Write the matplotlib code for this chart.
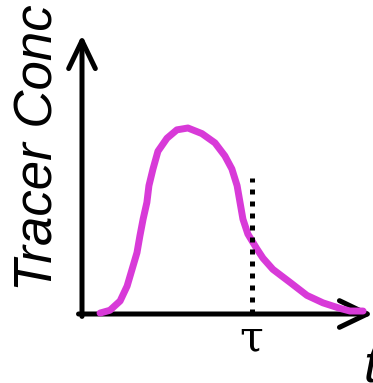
import numpy as np
import matplotlib
matplotlib.use("Agg")
import matplotlib.pyplot as plt

# tracer concentration curve (time in arbitrary units, conc normalised to peak)
t = [0.62, 0.96, 1.31, 1.55, 1.72, 1.89, 1.99, 2.10, 2.23, 2.30, 2.44, 2.61, 2.92,
     3.26, 3.64, 4.12, 4.57, 4.91, 5.15, 5.33, 5.43, 5.53, 5.70, 6.01, 6.22, 6.56,
     7.15, 7.73, 8.28, 8.87, 9.21, 9.66]
conc = [0.005, 0.02, 0.07, 0.15, 0.24, 0.33, 0.42, 0.51, 0.60, 0.69, 0.78, 0.875,
        0.945, 0.99, 1.00, 0.97, 0.92, 0.85, 0.78, 0.69, 0.60, 0.51, 0.43, 0.35,
        0.30, 0.24, 0.17, 0.10, 0.06, 0.03, 0.016, 0.016]
tau = 5.83
tau_top = 0.73

fig = plt.figure(figsize=(3.73, 3.83), dpi=100)
ax = fig.add_axes([82/373, 69/383, 291/373, 279/383])
ax.set_xlim(0, 10)
ax.set_ylim(0, 1.5)
for s in ax.spines.values():
    s.set_visible(False)

ax.plot(t, conc, color='#d83ad8', lw=5, solid_capstyle='round',
        solid_joinstyle='round', zorder=4, clip_on=False)

# axes arrows
arrow = dict(arrowstyle='->,head_length=1.0,head_width=0.48', lw=3.6,
             color='k', mutation_scale=20, shrinkA=0, shrinkB=0)
ax.annotate('', xy=(0, 1.5), xytext=(0, -0.013), arrowprops=arrow,
            annotation_clip=False)
ax.annotate('', xy=(10, 0), xytext=(-0.12, 0), arrowprops=arrow,
            annotation_clip=False, zorder=3)

ax.plot([tau, tau], [0, tau_top], color='k', lw=3.6, linestyle=(0, (1, 1.4)),
        zorder=5)

ax.set_xticks([tau], ['τ'], fontsize=31, family='DejaVu Serif')
ax.tick_params(axis='x', length=0, pad=2)
ax.set_yticks([])

fig.text(364/373, 1 - 343/383, 't', fontsize=38, style='italic',
         family='Liberation Sans', ha='left', va='top')
fig.text(39/373, 1 - 148/383, 'Tracer Conc', fontsize=38, style='italic',
         family='Liberation Sans', rotation=90, ha='center', va='center')

fig.savefig('out.png', dpi=100)
